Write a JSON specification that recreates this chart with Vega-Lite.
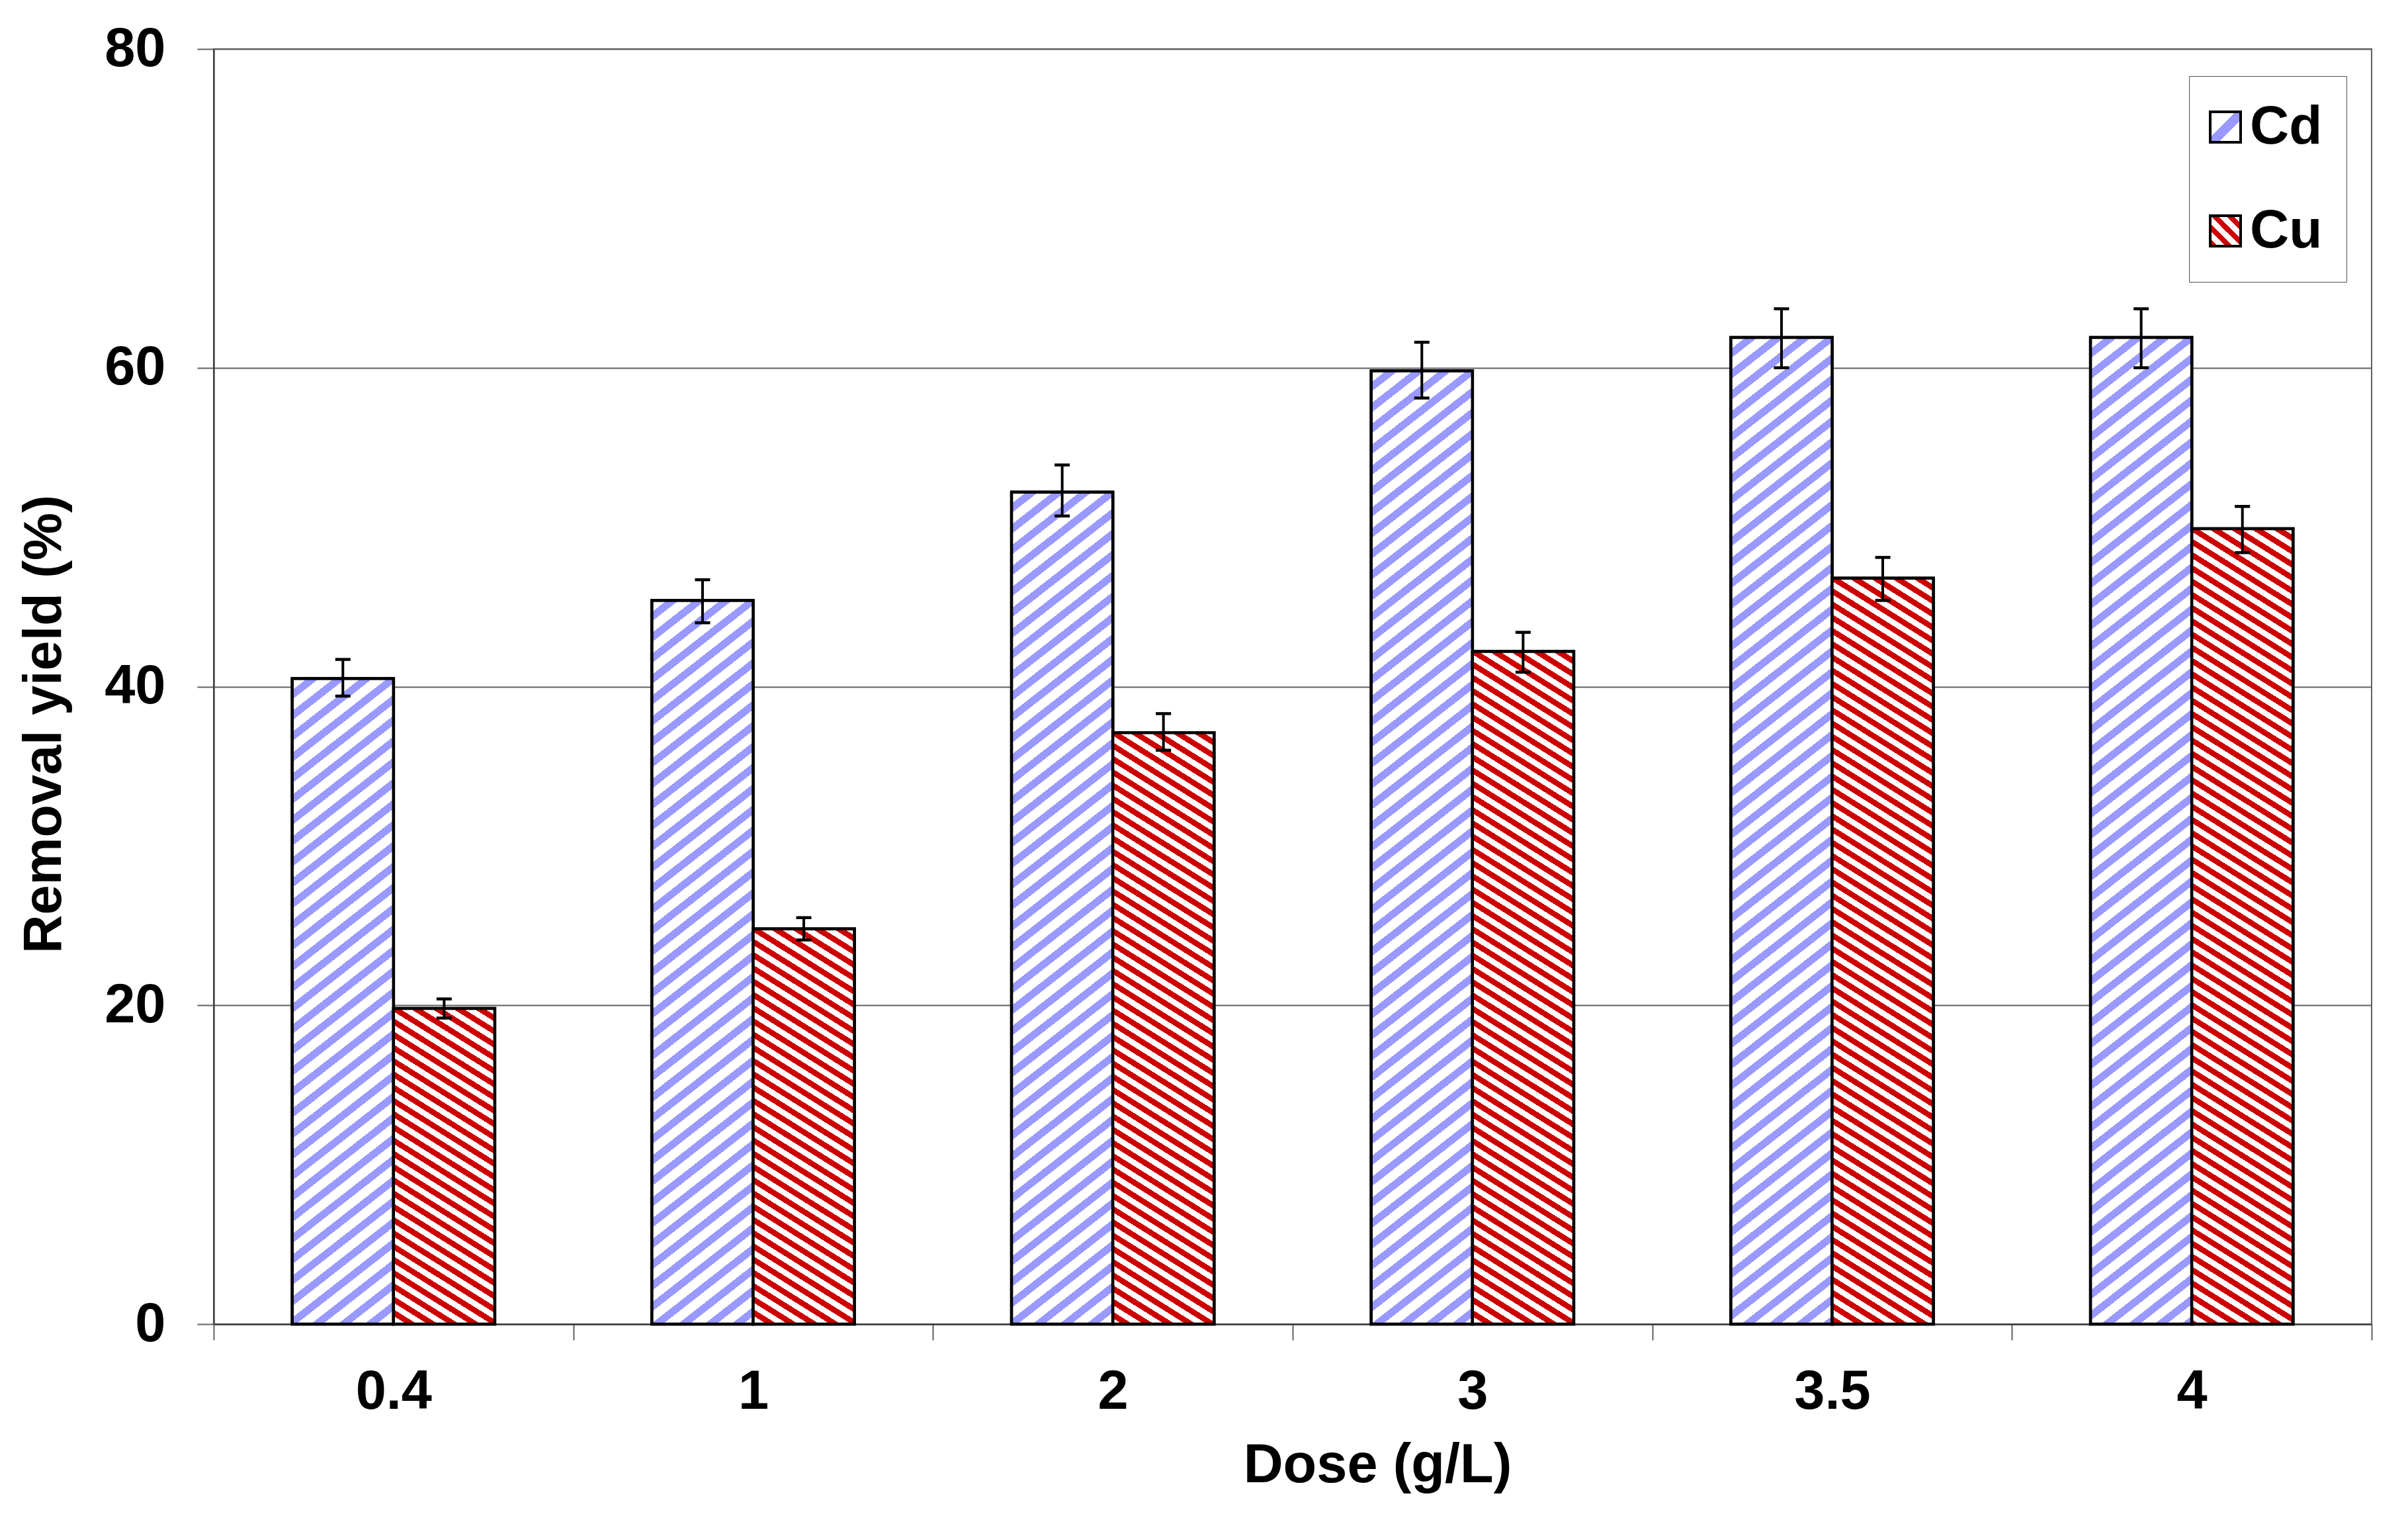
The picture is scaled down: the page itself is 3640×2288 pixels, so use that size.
{
"$schema": "https://vega.github.io/schema/vega-lite/v6.json",
"autosize": {"type": "none"},
"padding": {"left": 323, "top": 74, "right": 55, "bottom": 287},
"width": 3262,
"height": 1927,
"background": "white",
"params": [
{"name": "stopsCd", "value": [
{"offset":0,"color":"#fff"},{"offset":0.0105,"color":"#fff"},{"offset":0.0105,"color":"#99f"},{"offset":0.019,"color":"#99f"},
{"offset":0.019,"color":"#fff"},{"offset":0.0295,"color":"#fff"},{"offset":0.0295,"color":"#99f"},{"offset":0.038,"color":"#99f"},
{"offset":0.038,"color":"#fff"},{"offset":0.0485,"color":"#fff"},{"offset":0.0485,"color":"#99f"},{"offset":0.057,"color":"#99f"},
{"offset":0.057,"color":"#fff"},{"offset":0.0675,"color":"#fff"},{"offset":0.0675,"color":"#99f"},{"offset":0.076,"color":"#99f"},
{"offset":0.076,"color":"#fff"},{"offset":0.0865,"color":"#fff"},{"offset":0.0865,"color":"#99f"},{"offset":0.095,"color":"#99f"},
{"offset":0.095,"color":"#fff"},{"offset":0.1055,"color":"#fff"},{"offset":0.1055,"color":"#99f"},{"offset":0.114,"color":"#99f"},
{"offset":0.114,"color":"#fff"},{"offset":0.1245,"color":"#fff"},{"offset":0.1245,"color":"#99f"},{"offset":0.133,"color":"#99f"},
{"offset":0.133,"color":"#fff"},{"offset":0.1435,"color":"#fff"},{"offset":0.1435,"color":"#99f"},{"offset":0.152,"color":"#99f"},
{"offset":0.152,"color":"#fff"},{"offset":0.1625,"color":"#fff"},{"offset":0.1625,"color":"#99f"},{"offset":0.171,"color":"#99f"},
{"offset":0.171,"color":"#fff"},{"offset":0.1815,"color":"#fff"},{"offset":0.1815,"color":"#99f"},{"offset":0.19,"color":"#99f"},
{"offset":0.19,"color":"#fff"},{"offset":0.2005,"color":"#fff"},{"offset":0.2005,"color":"#99f"},{"offset":0.209,"color":"#99f"},
{"offset":0.209,"color":"#fff"},{"offset":0.2195,"color":"#fff"},{"offset":0.2195,"color":"#99f"},{"offset":0.228,"color":"#99f"},
{"offset":0.228,"color":"#fff"},{"offset":0.2385,"color":"#fff"},{"offset":0.2385,"color":"#99f"},{"offset":0.247,"color":"#99f"},
{"offset":0.247,"color":"#fff"},{"offset":0.2575,"color":"#fff"},{"offset":0.2575,"color":"#99f"},{"offset":0.266,"color":"#99f"},
{"offset":0.266,"color":"#fff"},{"offset":0.2765,"color":"#fff"},{"offset":0.2765,"color":"#99f"},{"offset":0.285,"color":"#99f"},
{"offset":0.285,"color":"#fff"},{"offset":0.2955,"color":"#fff"},{"offset":0.2955,"color":"#99f"},{"offset":0.304,"color":"#99f"},
{"offset":0.304,"color":"#fff"},{"offset":0.3145,"color":"#fff"},{"offset":0.3145,"color":"#99f"},{"offset":0.323,"color":"#99f"},
{"offset":0.323,"color":"#fff"},{"offset":0.3335,"color":"#fff"},{"offset":0.3335,"color":"#99f"},{"offset":0.342,"color":"#99f"},
{"offset":0.342,"color":"#fff"},{"offset":0.3525,"color":"#fff"},{"offset":0.3525,"color":"#99f"},{"offset":0.361,"color":"#99f"},
{"offset":0.361,"color":"#fff"},{"offset":0.3715,"color":"#fff"},{"offset":0.3715,"color":"#99f"},{"offset":0.38,"color":"#99f"},
{"offset":0.38,"color":"#fff"},{"offset":0.3905,"color":"#fff"},{"offset":0.3905,"color":"#99f"},{"offset":0.399,"color":"#99f"},
{"offset":0.399,"color":"#fff"},{"offset":0.4095,"color":"#fff"},{"offset":0.4095,"color":"#99f"},{"offset":0.418,"color":"#99f"},
{"offset":0.418,"color":"#fff"},{"offset":0.4285,"color":"#fff"},{"offset":0.4285,"color":"#99f"},{"offset":0.437,"color":"#99f"},
{"offset":0.437,"color":"#fff"},{"offset":0.4475,"color":"#fff"},{"offset":0.4475,"color":"#99f"},{"offset":0.456,"color":"#99f"},
{"offset":0.456,"color":"#fff"},{"offset":0.4665,"color":"#fff"},{"offset":0.4665,"color":"#99f"},{"offset":0.475,"color":"#99f"},
{"offset":0.475,"color":"#fff"},{"offset":0.4855,"color":"#fff"},{"offset":0.4855,"color":"#99f"},{"offset":0.494,"color":"#99f"},
{"offset":0.494,"color":"#fff"},{"offset":0.5045,"color":"#fff"},{"offset":0.5045,"color":"#99f"},{"offset":0.513,"color":"#99f"},
{"offset":0.513,"color":"#fff"},{"offset":0.5235,"color":"#fff"},{"offset":0.5235,"color":"#99f"},{"offset":0.532,"color":"#99f"},
{"offset":0.532,"color":"#fff"},{"offset":0.5425,"color":"#fff"},{"offset":0.5425,"color":"#99f"},{"offset":0.551,"color":"#99f"},
{"offset":0.551,"color":"#fff"},{"offset":0.5615,"color":"#fff"},{"offset":0.5615,"color":"#99f"},{"offset":0.57,"color":"#99f"},
{"offset":0.57,"color":"#fff"},{"offset":0.5805,"color":"#fff"},{"offset":0.5805,"color":"#99f"},{"offset":0.589,"color":"#99f"},
{"offset":0.589,"color":"#fff"},{"offset":0.5995,"color":"#fff"},{"offset":0.5995,"color":"#99f"},{"offset":0.608,"color":"#99f"},
{"offset":0.608,"color":"#fff"},{"offset":0.6185,"color":"#fff"},{"offset":0.6185,"color":"#99f"},{"offset":0.627,"color":"#99f"},
{"offset":0.627,"color":"#fff"},{"offset":0.6375,"color":"#fff"},{"offset":0.6375,"color":"#99f"},{"offset":0.646,"color":"#99f"},
{"offset":0.646,"color":"#fff"},{"offset":0.6565,"color":"#fff"},{"offset":0.6565,"color":"#99f"},{"offset":0.665,"color":"#99f"},
{"offset":0.665,"color":"#fff"},{"offset":0.6755,"color":"#fff"},{"offset":0.6755,"color":"#99f"},{"offset":0.684,"color":"#99f"},
{"offset":0.684,"color":"#fff"},{"offset":0.6945,"color":"#fff"},{"offset":0.6945,"color":"#99f"},{"offset":0.703,"color":"#99f"},
{"offset":0.703,"color":"#fff"},{"offset":0.7135,"color":"#fff"},{"offset":0.7135,"color":"#99f"},{"offset":0.722,"color":"#99f"},
{"offset":0.722,"color":"#fff"},{"offset":0.7325,"color":"#fff"},{"offset":0.7325,"color":"#99f"},{"offset":0.741,"color":"#99f"},
{"offset":0.741,"color":"#fff"},{"offset":0.7515,"color":"#fff"},{"offset":0.7515,"color":"#99f"},{"offset":0.76,"color":"#99f"},
{"offset":0.76,"color":"#fff"},{"offset":0.7705,"color":"#fff"},{"offset":0.7705,"color":"#99f"},{"offset":0.779,"color":"#99f"},
{"offset":0.779,"color":"#fff"},{"offset":0.7895,"color":"#fff"},{"offset":0.7895,"color":"#99f"},{"offset":0.798,"color":"#99f"},
{"offset":0.798,"color":"#fff"},{"offset":0.8085,"color":"#fff"},{"offset":0.8085,"color":"#99f"},{"offset":0.817,"color":"#99f"},
{"offset":0.817,"color":"#fff"},{"offset":0.8275,"color":"#fff"},{"offset":0.8275,"color":"#99f"},{"offset":0.836,"color":"#99f"},
{"offset":0.836,"color":"#fff"},{"offset":0.8465,"color":"#fff"},{"offset":0.8465,"color":"#99f"},{"offset":0.855,"color":"#99f"},
{"offset":0.855,"color":"#fff"},{"offset":0.8655,"color":"#fff"},{"offset":0.8655,"color":"#99f"},{"offset":0.874,"color":"#99f"},
{"offset":0.874,"color":"#fff"},{"offset":0.8845,"color":"#fff"},{"offset":0.8845,"color":"#99f"},{"offset":0.893,"color":"#99f"},
{"offset":0.893,"color":"#fff"},{"offset":0.9035,"color":"#fff"},{"offset":0.9035,"color":"#99f"},{"offset":0.912,"color":"#99f"},
{"offset":0.912,"color":"#fff"},{"offset":0.9225,"color":"#fff"},{"offset":0.9225,"color":"#99f"},{"offset":0.931,"color":"#99f"},
{"offset":0.931,"color":"#fff"},{"offset":0.9415,"color":"#fff"},{"offset":0.9415,"color":"#99f"},{"offset":0.95,"color":"#99f"},
{"offset":0.95,"color":"#fff"},{"offset":0.9605,"color":"#fff"},{"offset":0.9605,"color":"#99f"},{"offset":0.969,"color":"#99f"},
{"offset":0.969,"color":"#fff"},{"offset":0.9795,"color":"#fff"},{"offset":0.9795,"color":"#99f"},{"offset":0.988,"color":"#99f"},
{"offset":0.988,"color":"#fff"},{"offset":0.9985,"color":"#fff"},{"offset":0.9985,"color":"#99f"},{"offset":1,"color":"#99f"}
]},
{"name": "stopsCu", "value": [
{"offset":0,"color":"#fff"},{"offset":0.0075,"color":"#fff"},{"offset":0.0075,"color":"#c00"},{"offset":0.015,"color":"#c00"},
{"offset":0.015,"color":"#fff"},{"offset":0.0225,"color":"#fff"},{"offset":0.0225,"color":"#c00"},{"offset":0.03,"color":"#c00"},
{"offset":0.03,"color":"#fff"},{"offset":0.0375,"color":"#fff"},{"offset":0.0375,"color":"#c00"},{"offset":0.045,"color":"#c00"},
{"offset":0.045,"color":"#fff"},{"offset":0.0525,"color":"#fff"},{"offset":0.0525,"color":"#c00"},{"offset":0.06,"color":"#c00"},
{"offset":0.06,"color":"#fff"},{"offset":0.0675,"color":"#fff"},{"offset":0.0675,"color":"#c00"},{"offset":0.075,"color":"#c00"},
{"offset":0.075,"color":"#fff"},{"offset":0.0825,"color":"#fff"},{"offset":0.0825,"color":"#c00"},{"offset":0.09,"color":"#c00"},
{"offset":0.09,"color":"#fff"},{"offset":0.0975,"color":"#fff"},{"offset":0.0975,"color":"#c00"},{"offset":0.105,"color":"#c00"},
{"offset":0.105,"color":"#fff"},{"offset":0.1125,"color":"#fff"},{"offset":0.1125,"color":"#c00"},{"offset":0.12,"color":"#c00"},
{"offset":0.12,"color":"#fff"},{"offset":0.1275,"color":"#fff"},{"offset":0.1275,"color":"#c00"},{"offset":0.135,"color":"#c00"},
{"offset":0.135,"color":"#fff"},{"offset":0.1425,"color":"#fff"},{"offset":0.1425,"color":"#c00"},{"offset":0.15,"color":"#c00"},
{"offset":0.15,"color":"#fff"},{"offset":0.1575,"color":"#fff"},{"offset":0.1575,"color":"#c00"},{"offset":0.165,"color":"#c00"},
{"offset":0.165,"color":"#fff"},{"offset":0.1725,"color":"#fff"},{"offset":0.1725,"color":"#c00"},{"offset":0.18,"color":"#c00"},
{"offset":0.18,"color":"#fff"},{"offset":0.1875,"color":"#fff"},{"offset":0.1875,"color":"#c00"},{"offset":0.195,"color":"#c00"},
{"offset":0.195,"color":"#fff"},{"offset":0.2025,"color":"#fff"},{"offset":0.2025,"color":"#c00"},{"offset":0.21,"color":"#c00"},
{"offset":0.21,"color":"#fff"},{"offset":0.2175,"color":"#fff"},{"offset":0.2175,"color":"#c00"},{"offset":0.225,"color":"#c00"},
{"offset":0.225,"color":"#fff"},{"offset":0.2325,"color":"#fff"},{"offset":0.2325,"color":"#c00"},{"offset":0.24,"color":"#c00"},
{"offset":0.24,"color":"#fff"},{"offset":0.2475,"color":"#fff"},{"offset":0.2475,"color":"#c00"},{"offset":0.255,"color":"#c00"},
{"offset":0.255,"color":"#fff"},{"offset":0.2625,"color":"#fff"},{"offset":0.2625,"color":"#c00"},{"offset":0.27,"color":"#c00"},
{"offset":0.27,"color":"#fff"},{"offset":0.2775,"color":"#fff"},{"offset":0.2775,"color":"#c00"},{"offset":0.285,"color":"#c00"},
{"offset":0.285,"color":"#fff"},{"offset":0.2925,"color":"#fff"},{"offset":0.2925,"color":"#c00"},{"offset":0.3,"color":"#c00"},
{"offset":0.3,"color":"#fff"},{"offset":0.3075,"color":"#fff"},{"offset":0.3075,"color":"#c00"},{"offset":0.315,"color":"#c00"},
{"offset":0.315,"color":"#fff"},{"offset":0.3225,"color":"#fff"},{"offset":0.3225,"color":"#c00"},{"offset":0.33,"color":"#c00"},
{"offset":0.33,"color":"#fff"},{"offset":0.3375,"color":"#fff"},{"offset":0.3375,"color":"#c00"},{"offset":0.345,"color":"#c00"},
{"offset":0.345,"color":"#fff"},{"offset":0.3525,"color":"#fff"},{"offset":0.3525,"color":"#c00"},{"offset":0.36,"color":"#c00"},
{"offset":0.36,"color":"#fff"},{"offset":0.3675,"color":"#fff"},{"offset":0.3675,"color":"#c00"},{"offset":0.375,"color":"#c00"},
{"offset":0.375,"color":"#fff"},{"offset":0.3825,"color":"#fff"},{"offset":0.3825,"color":"#c00"},{"offset":0.39,"color":"#c00"},
{"offset":0.39,"color":"#fff"},{"offset":0.3975,"color":"#fff"},{"offset":0.3975,"color":"#c00"},{"offset":0.405,"color":"#c00"},
{"offset":0.405,"color":"#fff"},{"offset":0.4125,"color":"#fff"},{"offset":0.4125,"color":"#c00"},{"offset":0.42,"color":"#c00"},
{"offset":0.42,"color":"#fff"},{"offset":0.4275,"color":"#fff"},{"offset":0.4275,"color":"#c00"},{"offset":0.435,"color":"#c00"},
{"offset":0.435,"color":"#fff"},{"offset":0.4425,"color":"#fff"},{"offset":0.4425,"color":"#c00"},{"offset":0.45,"color":"#c00"},
{"offset":0.45,"color":"#fff"},{"offset":0.4575,"color":"#fff"},{"offset":0.4575,"color":"#c00"},{"offset":0.465,"color":"#c00"},
{"offset":0.465,"color":"#fff"},{"offset":0.4725,"color":"#fff"},{"offset":0.4725,"color":"#c00"},{"offset":0.48,"color":"#c00"},
{"offset":0.48,"color":"#fff"},{"offset":0.4875,"color":"#fff"},{"offset":0.4875,"color":"#c00"},{"offset":0.495,"color":"#c00"},
{"offset":0.495,"color":"#fff"},{"offset":0.5025,"color":"#fff"},{"offset":0.5025,"color":"#c00"},{"offset":0.51,"color":"#c00"},
{"offset":0.51,"color":"#fff"},{"offset":0.5175,"color":"#fff"},{"offset":0.5175,"color":"#c00"},{"offset":0.525,"color":"#c00"},
{"offset":0.525,"color":"#fff"},{"offset":0.5325,"color":"#fff"},{"offset":0.5325,"color":"#c00"},{"offset":0.54,"color":"#c00"},
{"offset":0.54,"color":"#fff"},{"offset":0.5475,"color":"#fff"},{"offset":0.5475,"color":"#c00"},{"offset":0.555,"color":"#c00"},
{"offset":0.555,"color":"#fff"},{"offset":0.5625,"color":"#fff"},{"offset":0.5625,"color":"#c00"},{"offset":0.57,"color":"#c00"},
{"offset":0.57,"color":"#fff"},{"offset":0.5775,"color":"#fff"},{"offset":0.5775,"color":"#c00"},{"offset":0.585,"color":"#c00"},
{"offset":0.585,"color":"#fff"},{"offset":0.5925,"color":"#fff"},{"offset":0.5925,"color":"#c00"},{"offset":0.6,"color":"#c00"},
{"offset":0.6,"color":"#fff"},{"offset":0.6075,"color":"#fff"},{"offset":0.6075,"color":"#c00"},{"offset":0.615,"color":"#c00"},
{"offset":0.615,"color":"#fff"},{"offset":0.6225,"color":"#fff"},{"offset":0.6225,"color":"#c00"},{"offset":0.63,"color":"#c00"},
{"offset":0.63,"color":"#fff"},{"offset":0.6375,"color":"#fff"},{"offset":0.6375,"color":"#c00"},{"offset":0.645,"color":"#c00"},
{"offset":0.645,"color":"#fff"},{"offset":0.6525,"color":"#fff"},{"offset":0.6525,"color":"#c00"},{"offset":0.66,"color":"#c00"},
{"offset":0.66,"color":"#fff"},{"offset":0.6675,"color":"#fff"},{"offset":0.6675,"color":"#c00"},{"offset":0.675,"color":"#c00"},
{"offset":0.675,"color":"#fff"},{"offset":0.6825,"color":"#fff"},{"offset":0.6825,"color":"#c00"},{"offset":0.69,"color":"#c00"},
{"offset":0.69,"color":"#fff"},{"offset":0.6975,"color":"#fff"},{"offset":0.6975,"color":"#c00"},{"offset":0.705,"color":"#c00"},
{"offset":0.705,"color":"#fff"},{"offset":0.7125,"color":"#fff"},{"offset":0.7125,"color":"#c00"},{"offset":0.72,"color":"#c00"},
{"offset":0.72,"color":"#fff"},{"offset":0.7275,"color":"#fff"},{"offset":0.7275,"color":"#c00"},{"offset":0.735,"color":"#c00"},
{"offset":0.735,"color":"#fff"},{"offset":0.7425,"color":"#fff"},{"offset":0.7425,"color":"#c00"},{"offset":0.75,"color":"#c00"},
{"offset":0.75,"color":"#fff"},{"offset":0.7575,"color":"#fff"},{"offset":0.7575,"color":"#c00"},{"offset":0.765,"color":"#c00"},
{"offset":0.765,"color":"#fff"},{"offset":0.7725,"color":"#fff"},{"offset":0.7725,"color":"#c00"},{"offset":0.78,"color":"#c00"},
{"offset":0.78,"color":"#fff"},{"offset":0.7875,"color":"#fff"},{"offset":0.7875,"color":"#c00"},{"offset":0.795,"color":"#c00"},
{"offset":0.795,"color":"#fff"},{"offset":0.8025,"color":"#fff"},{"offset":0.8025,"color":"#c00"},{"offset":0.81,"color":"#c00"},
{"offset":0.81,"color":"#fff"},{"offset":0.8175,"color":"#fff"},{"offset":0.8175,"color":"#c00"},{"offset":0.825,"color":"#c00"},
{"offset":0.825,"color":"#fff"},{"offset":0.8325,"color":"#fff"},{"offset":0.8325,"color":"#c00"},{"offset":0.84,"color":"#c00"},
{"offset":0.84,"color":"#fff"},{"offset":0.8475,"color":"#fff"},{"offset":0.8475,"color":"#c00"},{"offset":0.855,"color":"#c00"},
{"offset":0.855,"color":"#fff"},{"offset":0.8625,"color":"#fff"},{"offset":0.8625,"color":"#c00"},{"offset":0.87,"color":"#c00"},
{"offset":0.87,"color":"#fff"},{"offset":0.8775,"color":"#fff"},{"offset":0.8775,"color":"#c00"},{"offset":0.885,"color":"#c00"},
{"offset":0.885,"color":"#fff"},{"offset":0.8925,"color":"#fff"},{"offset":0.8925,"color":"#c00"},{"offset":0.9,"color":"#c00"},
{"offset":0.9,"color":"#fff"},{"offset":0.9075,"color":"#fff"},{"offset":0.9075,"color":"#c00"},{"offset":0.915,"color":"#c00"},
{"offset":0.915,"color":"#fff"},{"offset":0.9225,"color":"#fff"},{"offset":0.9225,"color":"#c00"},{"offset":0.93,"color":"#c00"},
{"offset":0.93,"color":"#fff"},{"offset":0.9375,"color":"#fff"},{"offset":0.9375,"color":"#c00"},{"offset":0.945,"color":"#c00"},
{"offset":0.945,"color":"#fff"},{"offset":0.9525,"color":"#fff"},{"offset":0.9525,"color":"#c00"},{"offset":0.96,"color":"#c00"},
{"offset":0.96,"color":"#fff"},{"offset":0.9675,"color":"#fff"},{"offset":0.9675,"color":"#c00"},{"offset":0.975,"color":"#c00"},
{"offset":0.975,"color":"#fff"},{"offset":0.9825,"color":"#fff"},{"offset":0.9825,"color":"#c00"},{"offset":0.99,"color":"#c00"},
{"offset":0.99,"color":"#fff"},{"offset":0.9975,"color":"#fff"},{"offset":0.9975,"color":"#c00"},{"offset":1,"color":"#c00"}
]},
{"name": "legCd", "value": [
{"offset":0,"color":"#fff"},{"offset":0.42,"color":"#fff"},{"offset":0.42,"color":"#99f"},{"offset":0.64,"color":"#99f"},{"offset":0.64,"color":"#fff"},{"offset":1,"color":"#fff"}
]},
{"name": "legCu", "value": [
{"offset":0,"color":"#fff"},{"offset":0.12,"color":"#fff"},{"offset":0.12,"color":"#c00"},{"offset":0.25,"color":"#c00"},
{"offset":0.25,"color":"#fff"},{"offset":0.37,"color":"#fff"},{"offset":0.37,"color":"#c00"},{"offset":0.5,"color":"#c00"},
{"offset":0.5,"color":"#fff"},{"offset":0.62,"color":"#fff"},{"offset":0.62,"color":"#c00"},{"offset":0.75,"color":"#c00"},
{"offset":0.75,"color":"#fff"},{"offset":0.87,"color":"#fff"},{"offset":0.87,"color":"#c00"},{"offset":1,"color":"#c00"}
]}
],
"data": {"values": [
{"dose": "0.4", "metal": "Cd", "value": 40.5, "lo": 39.4, "hi": 41.7},
{"dose": "1", "metal": "Cd", "value": 45.4, "lo": 44.0, "hi": 46.7},
{"dose": "2", "metal": "Cd", "value": 52.2, "lo": 50.7, "hi": 53.9},
{"dose": "3", "metal": "Cd", "value": 59.8, "lo": 58.1, "hi": 61.6},
{"dose": "3.5", "metal": "Cd", "value": 61.9, "lo": 60.0, "hi": 63.7},
{"dose": "4", "metal": "Cd", "value": 61.9, "lo": 60.0, "hi": 63.7},
{"dose": "0.4", "metal": "Cu", "value": 19.8, "lo": 19.2, "hi": 20.4},
{"dose": "1", "metal": "Cu", "value": 24.8, "lo": 24.1, "hi": 25.5},
{"dose": "2", "metal": "Cu", "value": 37.1, "lo": 36.0, "hi": 38.3},
{"dose": "3", "metal": "Cu", "value": 42.2, "lo": 40.9, "hi": 43.4},
{"dose": "3.5", "metal": "Cu", "value": 46.8, "lo": 45.4, "hi": 48.1},
{"dose": "4", "metal": "Cu", "value": 49.9, "lo": 48.4, "hi": 51.3}
]},
"encoding": {
"x": {"field": "dose", "type": "nominal", "sort": ["0.4", "1", "2", "3", "3.5", "4"],
 "scale": {"paddingInner": 0, "paddingOuter": 0},
 "axis": {"title": "Dose (g/L)", "tickBand": "extent", "labelAngle": 0, "tickSize": 24, "labelPadding": 103,
  "labelBaseline": "alphabetic", "labelFontSize": 83, "titleFontSize": 83, "titleX": 1759, "titleY": 238,
  "titleBaseline": "alphabetic", "titleAlign": "center", "labelOverlap": false}},
"xOffset": {"field": "metal", "type": "nominal", "sort": ["Cd", "Cu"], "scale": {"paddingInner": 0, "paddingOuter": 0.776}}
},
"layer": [
{"mark": {"type": "bar", "stroke": "black", "strokeWidth": 4.5},
 "encoding": {
  "y": {"field": "value", "type": "quantitative", "title": "Removal yield (%)",
   "scale": {"domain": [0, 80], "nice": false},
   "axis": {"values": [0, 20, 40, 60, 80], "grid": true, "gridColor": "#606060", "gridWidth": 2, "tickSize": 25,
    "labelPadding": 48, "labelFontSize": 83, "titleFontSize": 81, "titleX": -232, "titleY": 1020,
    "titleBaseline": "alphabetic", "titleAngle": -90, "titleAlign": "center", "labelFlush": false, "labelOverlap": false}},
  "fill": {"field": "metal", "type": "nominal",
   "scale": {"domain": ["Cd", "Cu"], "range": [
     {"expr": "{gradient: 'linear', x1: 0, y1: 0, x2: 1, y2: 1, stops: legCd}"},
     {"expr": "{gradient: 'linear', x1: 1, y1: 0, x2: 0, y2: 1, stops: legCu}"}]},
   "legend": {"title": null, "orient": "none", "legendX": 2986, "legendY": 41, "direction": "vertical",
    "symbolType": "square", "symbolSize": 2116, "symbolStrokeWidth": 4, "symbolStrokeColor": "black",
    "symbolOffset": -22, "symbolOpacity": 1,
    "labelFont": "Liberation Sans", "labelFontWeight": "bold", "labelFontSize": 82, "labelColor": "black",
    "labelOffset": -4, "rowPadding": 75, "padding": 36, "strokeColor": "#505050", "fillColor": "white"}}
 }},
{"mark": {"type": "bar", "stroke": "black", "strokeWidth": 4.5,
  "fill": {"expr": "datum.metal === 'Cd' ? {gradient: 'linear', x1: 0, y1: 0, x2: 0.07186/(0.005164+pow(datum.value*0.014478,2)), y2: datum.value*0.014478/(0.005164+pow(datum.value*0.014478,2)), stops: stopsCd} : {gradient: 'linear', x1: 1, y1: 0, x2: 1-0.07168/(0.005138+pow(datum.value*0.01806,2)), y2: datum.value*0.01806/(0.005138+pow(datum.value*0.01806,2)), stops: stopsCu}"}},
 "encoding": {"y": {"field": "value", "type": "quantitative", "title": "Removal yield (%)"}}},
{"mark": {"type": "rule", "color": "black", "strokeWidth": 4},
 "encoding": {"y": {"field": "lo", "type": "quantitative", "title": "Removal yield (%)"}, "y2": {"field": "hi"}}},
{"mark": {"type": "tick", "orient": "horizontal", "size": 23, "thickness": 4.5, "color": "black", "opacity": 1},
 "encoding": {"y": {"field": "lo", "type": "quantitative", "title": "Removal yield (%)"}}},
{"mark": {"type": "tick", "orient": "horizontal", "size": 23, "thickness": 4.5, "color": "black", "opacity": 1},
 "encoding": {"y": {"field": "hi", "type": "quantitative", "title": "Removal yield (%)"}}}
],
"config": {
"view": {"stroke": "#606060", "strokeWidth": 2},
"axis": {"labelFont": "Liberation Sans", "titleFont": "Liberation Sans", "labelFontWeight": "bold", "titleFontWeight": "bold",
 "labelColor": "black", "titleColor": "black", "domainColor": "#404040", "domainWidth": 2.5, "tickColor": "#606060", "tickWidth": 2}
}
}
